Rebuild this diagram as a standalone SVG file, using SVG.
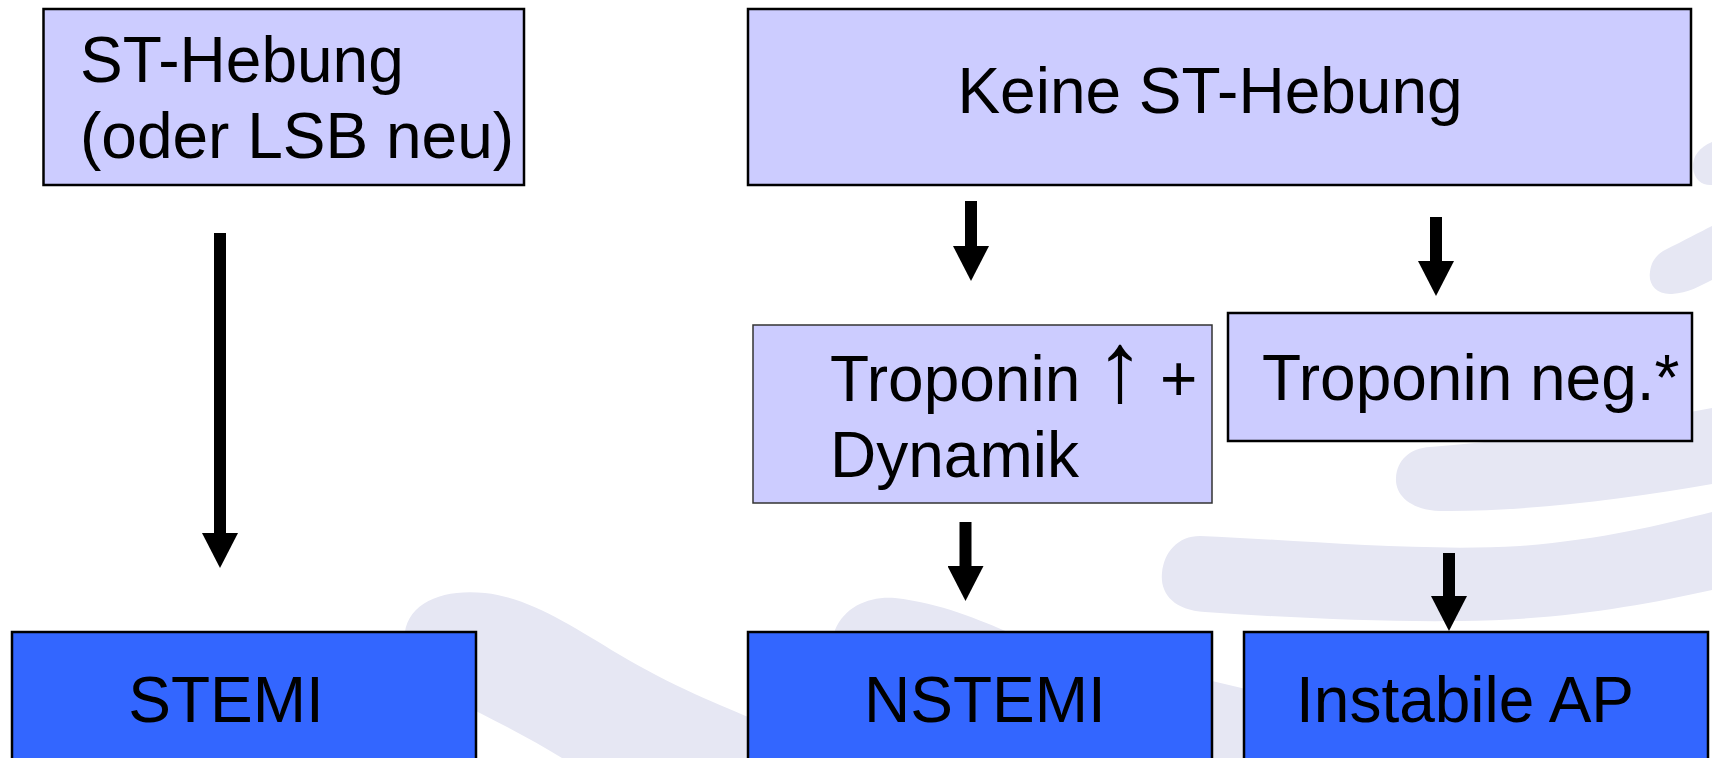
<svg xmlns="http://www.w3.org/2000/svg" width="1712" height="758" viewBox="0 0 1712 758">
<style>
text{font-family:"Liberation Sans",Arial,sans-serif;font-size:64px;fill:#000}
.lt{fill:#CCCCFF;stroke:#000;stroke-width:2.5}
.dk{fill:#3366FF;stroke:#000;stroke-width:2.5}
.wm{fill:#E6E7F3}
.arr{stroke:#000;stroke-width:12;fill:none;marker-end:url(#head)}
.mid{text-anchor:middle}
</style>
<defs>
<marker id="head" markerUnits="userSpaceOnUse" markerWidth="36" markerHeight="36" viewBox="0 0 36 36" refX="2" refY="18" orient="auto">
<path d="M0,0 L35,18 L0,36 Z" fill="#000"/>
</marker>
</defs>
<rect width="1712" height="758" fill="#fff"/>
<g id="watermark">
<path class="wm" d="M405,645 C400,605 440,588 485,593 C530,598 570,625 620,655 C670,685 720,705 760,722 L760,758 L562,758 C530,738 490,718 450,698 C420,683 407,668 405,645 Z"/>
<path class="wm" d="M835,630 C845,606 870,596 895,598 C940,603 980,620 1010,633 L1250,690 L1250,758 L850,758 Z"/>
<path class="wm" d="M1200,536 C1300,540 1420,552 1520,546 C1600,540 1660,525 1712,512 L1712,590 C1640,606 1560,620 1460,621 C1380,622 1290,618 1205,612 C1172,610 1160,592 1162,573 C1164,552 1178,536 1200,536 Z"/>
<path class="wm" d="M1430,447 C1520,440 1620,425 1712,408 L1712,484 C1620,500 1520,512 1440,511 C1410,510 1395,495 1396,478 C1397,460 1410,448 1430,447 Z"/>
<path class="wm" d="M1665,250 C1685,240 1700,232 1712,226 L1712,280 C1700,286 1688,293 1672,294 C1656,295 1648,284 1650,272 C1651,262 1656,255 1665,250 Z"/>
<path class="wm" d="M1712,142 C1700,147 1692,156 1693,168 C1694,180 1703,186 1712,185 Z"/>
</g>
<g id="connectors">
<line class="arr" x1="220" y1="233" x2="220" y2="535"/>
<line class="arr" x1="971" y1="201" x2="971" y2="248"/>
<line class="arr" x1="1436" y1="217" x2="1436" y2="263"/>
<line class="arr" x1="965.5" y1="522" x2="965.5" y2="568"/>
<line class="arr" x1="1449" y1="553" x2="1449" y2="598"/>
</g>
<g id="n-st-hebung">
<rect class="lt" x="43.5" y="9" width="480.5" height="176"/>
<text x="80" y="82">ST-Hebung</text>
<text x="80" y="158">(oder LSB neu)</text>
</g>
<g id="n-keine">
<rect class="lt" x="748" y="9" width="943" height="176"/>
<text class="mid" x="1210" y="113">Keine ST-Hebung</text>
</g>
<g id="n-trop-up">
<rect class="lt" x="753" y="325" width="459" height="178" style="stroke:#333;stroke-width:1.5"/>
<text y="401"><tspan x="830">Troponin</tspan><tspan class="mid" x="1120" style="font-size:100px">↑</tspan><tspan x="1160">+</tspan></text>
<text x="830" y="477">Dynamik</text>
</g>
<g id="n-trop-neg">
<rect class="lt" x="1228" y="313" width="464" height="128"/>
<text x="1262" y="400">Troponin neg.*</text>
</g>
<g id="n-stemi">
<rect class="dk" x="12" y="632" width="464" height="140"/>
<text class="mid" x="226" y="722">STEMI</text>
</g>
<g id="n-nstemi">
<rect class="dk" x="748" y="632" width="464" height="140"/>
<text class="mid" x="985" y="722">NSTEMI</text>
</g>
<g id="n-instabile">
<rect class="dk" x="1244" y="632" width="464" height="140"/>
<text class="mid" x="1465" y="722">Instabile AP</text>
</g>
</svg>
